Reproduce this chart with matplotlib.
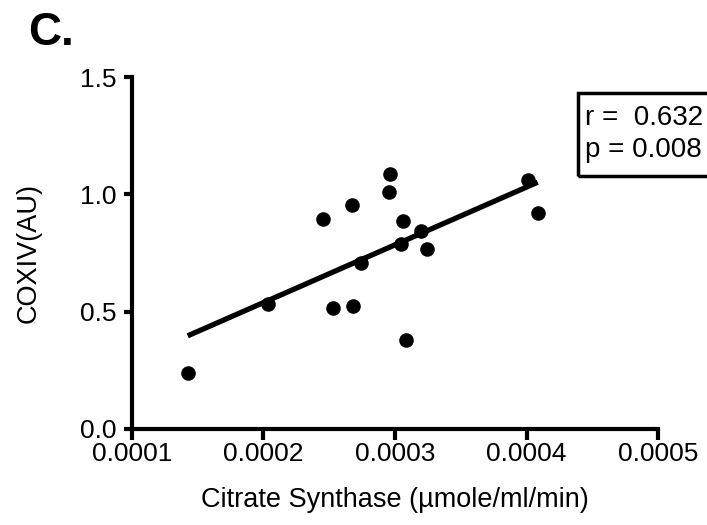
import numpy as np
import matplotlib.pyplot as plt
from matplotlib.patches import Rectangle

plt.rcParams['font.family'] = ['Liberation Sans', 'DejaVu Sans']

# Citrate synthase (umole/ml/min) vs COXIV (AU)
citrate_synthase = [0.0001424, 0.0002034, 0.0002452, 0.0002526, 0.0002671, 0.0002681,
                    0.0002745, 0.0002962, 0.0002952, 0.0003061, 0.0003043, 0.0003081,
                    0.0003201, 0.0003243, 0.0004011, 0.0004085]
coxiv = [0.236, 0.531, 0.895, 0.514, 0.955, 0.525,
         0.706, 1.086, 1.012, 0.888, 0.787, 0.377,
         0.845, 0.768, 1.062, 0.920]
stats_text = "r =  0.632\np = 0.008"

x = np.array(citrate_synthase)
y = np.array(coxiv)
slope, intercept = np.polyfit(x, y, 1)
xfit = np.array([x.min(), x.max()])

fig = plt.figure(figsize=(7.07, 5.25), dpi=100)
ax = fig.add_axes([0.1867, 0.1838, 0.744, 0.6686])

ax.scatter(x, y, s=110, color='black', zorder=3, linewidths=0)
ax.plot(xfit, slope * xfit + intercept, color='black', lw=3.8, solid_capstyle='butt')

ax.set_xlim(0.0001, 0.0005)
ax.set_ylim(0, 1.5)
ax.set_xticks([0.0001, 0.0002, 0.0003, 0.0004, 0.0005])
ax.set_xticklabels(['0.0001', '0.0002', '0.0003', '0.0004', '0.0005'])
ax.set_yticks([0.0, 0.5, 1.0, 1.5])
ax.set_yticklabels(['0.0', '0.5', '1.0', '1.5'])

for side in ['top', 'right']:
    ax.spines[side].set_visible(False)
for side in ['left', 'bottom']:
    ax.spines[side].set_linewidth(3)
    ax.spines[side].set_capstyle('projecting')
ax.tick_params(axis='x', width=3, length=8, labelsize=19, direction='out', pad=2)
ax.tick_params(axis='y', width=3, length=6, labelsize=19, direction='out', pad=5)

ax.set_xlabel("Citrate Synthase (µmole/ml/min)", fontsize=19.5, labelpad=15)
ax.set_ylabel("COXIV(AU)", fontsize=19.5, labelpad=28)

fig.text(28 / 707, 1 - 45 / 525, "C.", fontsize=33, fontweight='bold', ha='left', va='baseline')

# stats box, clipped by the right edge of the figure
fig.patches.append(Rectangle((578 / 707, 1 - 176 / 525), 150 / 707, 83 / 525,
                             transform=fig.transFigure, fill=False, lw=2.5, color='black'))
fig.text(585 / 707, 1 - 134 / 525, stats_text, fontsize=20, ha='left', va='center',
         linespacing=1.3)

fig.savefig('out.png', dpi=100)
